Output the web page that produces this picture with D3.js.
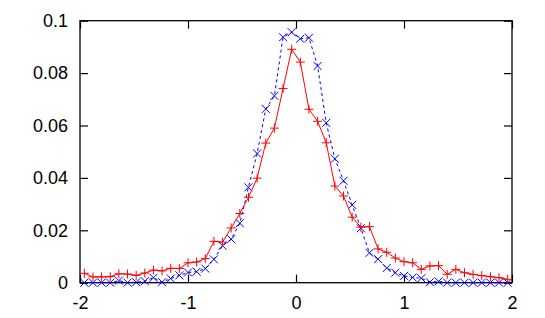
<!DOCTYPE html>
<html>
<head>
<meta charset="utf-8">
<script src="https://cdn.jsdelivr.net/npm/d3@7"></script>
<style>
  html, body { margin: 0; padding: 0; background: #fff; }
  svg { display: block; }
  text { font-family: "Liberation Sans", Arial, Helvetica, sans-serif; }
</style>
</head>
<body>
<svg id="chart" width="545" height="318"></svg>
<script>
// ---- data ----
const xValues = [-1.96,-1.88,-1.80,-1.72,-1.64,-1.56,-1.48,-1.40,-1.32,-1.24,-1.16,-1.08,-1.00,-0.92,-0.84,-0.76,-0.68,-0.60,-0.52,-0.44,-0.36,-0.28,-0.20,-0.12,-0.04,
                 0.04,0.12,0.20,0.28,0.36,0.44,0.52,0.60,0.68,0.76,0.84,0.92,1.00,1.08,1.16,1.24,1.32,1.40,1.48,1.56,1.64,1.72,1.80,1.88,1.96];
const redSeries = [0.0036,0.0022,0.0022,0.0023,0.0034,0.0033,0.0028,0.0037,0.0048,0.0045,0.0055,0.0054,0.0076,0.0079,0.0092,0.0158,0.0155,0.0209,0.0264,0.0326,0.0399,0.0533,0.0590,0.0741,0.0891,
                   0.0842,0.0662,0.0616,0.0534,0.0369,0.0331,0.0250,0.0212,0.0214,0.0129,0.0116,0.0094,0.0080,0.0076,0.0051,0.0064,0.0065,0.0032,0.0051,0.0038,0.0032,0.0027,0.0023,0.0019,0.0013];
const blueSeries = [0,0,0,0,0.0008,0,0.0002,0.0006,0.0019,0.0002,0.0016,0.0028,0.0039,0.0042,0.0054,0.0089,0.0141,0.0166,0.0227,0.0364,0.0493,0.0663,0.0713,0.0937,0.0956,
                    0.0931,0.0935,0.0827,0.0610,0.0473,0.0389,0.0297,0.0208,0.0114,0.0090,0.0056,0.0038,0.0026,0.0020,0.0017,0.0002,0.0005,0,0,0,0,0,0,0,0];
const xTicks = [-2, -1, 0, 1, 2];
const xTickLabels = ["-2", "-1", "0", "1", "2"];
const yTicks = [0, 0.02, 0.04, 0.06, 0.08, 0.1];
const yTickLabels = ["0", "0.02", "0.04", "0.06", "0.08", "0.1"];

// ---- layout ----
const pLeft = 80, pRight = 512, pTop = 20.7, pBottom = 282.7;
const svg = d3.select("#chart");
const x = d3.scaleLinear().domain([-2, 2]).range([pLeft, pRight]);
const y = d3.scaleLinear().domain([0, 0.1]).range([pBottom, pTop]);
const tickLen = 8;

// axes (inward ticks on all four sides)
const gB = svg.append("g").attr("transform", `translate(0,${pBottom})`)
  .call(d3.axisBottom(x).tickValues(xTicks).tickSizeInner(-tickLen).tickSizeOuter(0).tickPadding(13.5)
        .tickFormat((d, i) => xTickLabels[i]));
const gL = svg.append("g").attr("transform", `translate(${pLeft},0)`)
  .call(d3.axisLeft(y).tickValues(yTicks).tickSizeInner(-tickLen).tickSizeOuter(0).tickPadding(12)
        .tickFormat((d, i) => yTickLabels[i]));
const gT = svg.append("g").attr("transform", `translate(0,${pTop})`)
  .call(d3.axisTop(x).tickValues(xTicks).tickSizeInner(-tickLen).tickSizeOuter(0).tickFormat(""));
const gR = svg.append("g").attr("transform", `translate(${pRight},0)`)
  .call(d3.axisRight(y).tickValues(yTicks).tickSizeInner(-tickLen).tickSizeOuter(0).tickFormat(""));
[gB, gL, gT, gR].forEach(g => {
  g.select(".domain").remove();
  g.selectAll(".tick line").attr("stroke", "#000").attr("stroke-width", 1.2);
  g.selectAll(".tick text").attr("fill", "#000").style("font-size", "18px");
  g.attr("font-family", null).attr("font-size", null);
});

// border
svg.append("rect").attr("x", pLeft).attr("y", pTop)
  .attr("width", pRight - pLeft).attr("height", pBottom - pTop)
  .attr("fill", "none").attr("stroke", "#000").attr("stroke-width", 1.3);

const redData = xValues.map((v, i) => [v, redSeries[i]]);
const blueData = xValues.map((v, i) => [v, blueSeries[i]]);
const line = d3.line().x(d => x(d[0])).y(d => y(d[1]));

// blue dashed series with x markers
svg.append("path").datum(blueData).attr("d", line)
  .attr("fill", "none").attr("stroke", "#0000ff").attr("stroke-width", 1)
  .attr("stroke-dasharray", "3,3");
const s = 4;
svg.append("g").selectAll("path").data(blueData).join("path")
  .attr("d", d => { const cx = x(d[0]), cy = y(d[1]);
    return `M${cx - s},${cy - s}L${cx + s},${cy + s}M${cx - s},${cy + s}L${cx + s},${cy - s}`; })
  .attr("stroke", "#0000ff").attr("stroke-width", 1).attr("fill", "none");

// red solid series with + markers
svg.append("path").datum(redData).attr("d", line)
  .attr("fill", "none").attr("stroke", "#ff0000").attr("stroke-width", 1);
const p = 4.5;
svg.append("g").selectAll("path").data(redData).join("path")
  .attr("d", d => { const cx = x(d[0]), cy = y(d[1]);
    return `M${cx - p},${cy}L${cx + p},${cy}M${cx},${cy - p}L${cx},${cy + p}`; })
  .attr("stroke", "#ff0000").attr("stroke-width", 1).attr("fill", "none");
</script>
</body>
</html>
